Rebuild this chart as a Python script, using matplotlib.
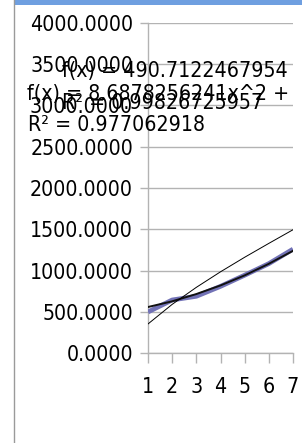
import matplotlib
matplotlib.use("Agg")
import matplotlib.pyplot as plt
from matplotlib.patches import Rectangle
from matplotlib.lines import Line2D

# ---- data ----
categories = [1, 2, 3, 4, 5, 6, 7]
series_values = [500, 645, 690, 810, 945, 1085, 1260]
poly_trend = [560, 629, 717, 821, 943, 1083, 1240]
power_trend = [355, 592, 798, 986, 1162, 1330, 1495]
y_ticks = [0, 500, 1000, 1500, 2000, 2500, 3000, 3500, 4000]
y_tick_labels = [f"{v:.4f}" for v in y_ticks]
x_tick_labels = ["1", "2", "3", "4", "5", "6", "7"]
eq1 = "f(x) = 490.7122467954"
r1 = "R² = 0.99826725957"
eq2 = "f(x) = 8.6878256241x^2 +"
r2 = "R² = 0.977062918"

W, H = 302, 443
fig = plt.figure(figsize=(W / 100, H / 100), dpi=100)
FONT = dict(family="DejaVu Sans", fontstretch="condensed", fontsize=15.3)
PT = 0.72  # points per pixel at 100 dpi


def fx(px):
    return px / W


def fy(py):
    return 1 - py / H


# frame decorations
fig.patches.append(Rectangle((fx(13.5), fy(4.5)), 1, 4.5 / H, transform=fig.transFigure,
                             facecolor="#6f9fe0", edgecolor="none", zorder=0))
fig.lines.append(Line2D([fx(13.5), fx(13.5)], [fy(0), fy(442)], transform=fig.transFigure,
                        color="#9a9a9a", lw=1.0))

x0, x1 = 148, 293
y_top, y_bot = 22.7, 353.3
ax = fig.add_axes([fx(x0), fy(y_bot), (x1 - x0) / W, (y_bot - y_top) / H])
ax.set_xlim(1, 7)
ax.set_ylim(0, 4000)
for s in ["top", "right"]:
    ax.spines[s].set_visible(False)
for s in ["left", "bottom"]:
    ax.spines[s].set_color("#b3b3b3")
    ax.spines[s].set_linewidth(1.0)
ax.set_yticks(y_ticks)
ax.set_yticklabels(y_tick_labels, **FONT)
ax.set_xticks(categories)
ax.set_xticklabels(x_tick_labels, **FONT)
ax.tick_params(axis="y", length=8 * PT, color="#b3b3b3", width=1.0, pad=7 * PT)
ax.tick_params(axis="x", length=10 * PT, color="#b3b3b3", width=1.0, pad=14 * PT)
ax.grid(axis="y", color="#b3b3b3", lw=1.0)
ax.set_axisbelow(True)
ax.patch.set_visible(False)

ax.plot(categories, series_values, color="#7272b6", lw=3.4, zorder=3, solid_capstyle="butt")
ax.plot(categories, poly_trend, color="#111111", lw=1.4, zorder=4)
ax.plot(categories, power_trend, color="#000000", lw=0.7, zorder=4)

# trend line labels (they overlap in the original as well)
fig.text(fx(62), fy(77), eq1, va="baseline", ha="left", **FONT)
fig.text(fx(27), fy(100), eq2, va="baseline", ha="left", **FONT)
fig.text(fx(62), fy(109), r1, va="baseline", ha="left", **FONT)
fig.text(fx(28), fy(131), r2, va="baseline", ha="left", **FONT)

fig.savefig("out.png", dpi=100)
